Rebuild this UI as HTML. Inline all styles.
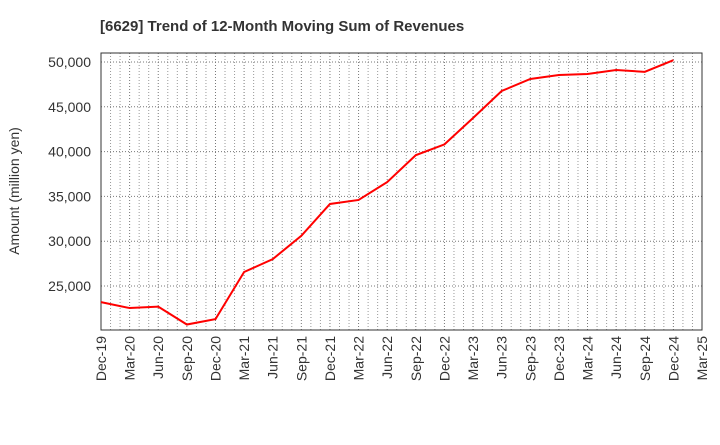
<!DOCTYPE html>
<html><head><meta charset="utf-8"><style>
body{margin:0;background:#fff;font-family:"Liberation Sans",sans-serif;}
svg text{font-family:"Liberation Sans",sans-serif;}
</style></head><body>
<svg id="chart" width="720" height="440" xmlns="http://www.w3.org/2000/svg">
<text x="100" y="31" font-size="15" font-weight="bold" fill="#333">[6629]  Trend of 12-Month Moving Sum of Revenues</text>
<text transform="translate(19,191) rotate(-90)" text-anchor="middle" font-size="14" fill="#333">Amount (million yen)</text>
<g id="grid"></g><g id="axes"></g><g id="series"></g>
</svg>
<script>
const xLabels=["Dec-19","Mar-20","Jun-20","Sep-20","Dec-20","Mar-21","Jun-21","Sep-21","Dec-21","Mar-22","Jun-22","Sep-22","Dec-22","Mar-23","Jun-23","Sep-23","Dec-23","Mar-24","Jun-24","Sep-24","Dec-24","Mar-25"];
const revenues=[23200,22540,22700,20700,21300,26560,28000,30600,34150,34600,36600,39600,40800,43750,46760,48100,48550,48660,49100,48900,50200];
const yTicks=[25000,30000,35000,40000,45000,50000];
const L=101,R=702,T=53,B=330,yMin=20090,yMax=51000;
const step=(R-L)/(xLabels.length-1);
const x=i=>L+i*step;
const y=v=>B-(v-yMin)/(yMax-yMin)*(B-T);
const NS="http://www.w3.org/2000/svg";
function mk(tag,parent,attrs){const e=document.createElementNS(NS,tag);for(const k in attrs)e.setAttribute(k,attrs[k]);parent.appendChild(e);return e;}
const grid=document.getElementById('grid'),axes=document.getElementById('axes'),series=document.getElementById('series');
for(let m=1;m<(xLabels.length-1)*3;m++){
 if(m%3===0)continue;
 const gl=mk('line',grid,{x1:L+m*step/3,x2:L+m*step/3,y1:T,y2:B,stroke:'#999','stroke-dasharray':'1,2','stroke-width':1});
 
 
}
xLabels.forEach((lab,i)=>{
 const gl=mk('line',grid,{x1:x(i),x2:x(i),y1:T,y2:B,stroke:'#777','stroke-dasharray':'1,2','stroke-width':1});
 
 
 const t=mk('text',axes,{transform:`translate(${x(i)+5},${B+6}) rotate(-90)`,'text-anchor':'end','font-size':14,fill:'#333'});
 t.textContent=lab;
 
 
});
yTicks.forEach(v=>{
 const gl=mk('line',grid,{x1:L,x2:R,y1:y(v),y2:y(v),stroke:'#777','stroke-dasharray':'1,2','stroke-width':1});
 
 
 const t=mk('text',axes,{x:L-10,y:y(v)+5,'text-anchor':'end','font-size':14,fill:'#333'});
 t.textContent=v.toLocaleString('en-US');
 
 
});
const frame=mk('rect',axes,{x:L,y:T,width:R-L,height:B-T,fill:'none',stroke:'#333','stroke-width':1});


const line=mk('polyline',series,{points:revenues.map((v,i)=>x(i)+','+y(v)).join(' '),fill:'none',stroke:'#ff0000','stroke-width':2});


</script>
</body></html>
